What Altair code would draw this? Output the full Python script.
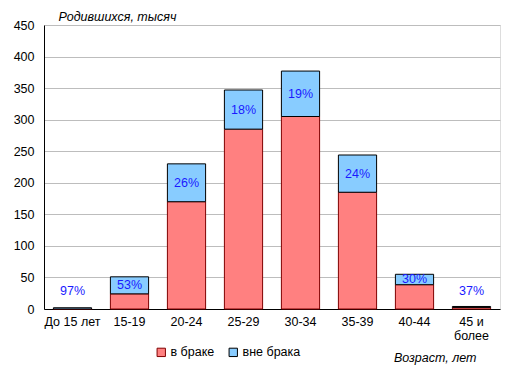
import altair as alt
import pandas as pd

ages = ["До 15 лет", "15-19", "20-24", "25-29", "30-34", "35-39", "40-44", "45 и более"]
married = [0.06, 24, 170, 285, 305, 185, 38.5, 2.5]
outside = [1.94, 27, 60, 62, 72, 59, 16.5, 1.5]
pct = [97, 53, 26, 18, 19, 24, 30, 37]
series = ["в браке", "вне брака"]
yticks = [0, 50, 100, 150, 200, 250, 300, 350, 400, 450]

rows = []
for a, m, o in zip(ages, married, outside):
    rows.append({"age": a, "series": series[0], "value": m, "ord": 0})
    rows.append({"age": a, "series": series[1], "value": o, "ord": 1})
df = pd.DataFrame(rows)

lab = pd.DataFrame({"age": ages, "married": married, "outside": outside, "pct": pct})

FONT = "Liberation Sans"
FS = 12.5

xscale = alt.Scale(domain=ages, paddingInner=0.33, paddingOuter=0.165)
yscale = alt.Scale(domain=[0, 450])

xaxis = alt.Axis(title="Возраст, лет", labelAngle=0, ticks=False,
                 labelFont=FONT, labelFontSize=FS, labelColor="black",
                 labelPadding=6, domainColor="black",
                 labelExpr="datum.label == '45 и более' ? ['45 и', 'более'] : datum.label",
                 titleFont=FONT, titleFontSize=FS, titleFontStyle="italic",
                 titleFontWeight="normal", titleColor="black",
                 titleAlign="right", titleAnchor="end", titleX=432, titleY=48,
                 titleBaseline="middle")
yaxis = alt.Axis(title="Родившихся, тысяч", values=yticks,
                 ticks=False, labelFont=FONT, labelFontSize=FS, labelColor="black",
                 labelPadding=10, domainColor="black", gridColor="#bdbdbd",
                 titleFont=FONT, titleFontSize=FS, titleFontStyle="italic",
                 titleFontWeight="normal", titleColor="black", titleAngle=0,
                 titleAlign="left", titleX=14, titleY=-9, titleBaseline="middle")

bars = alt.Chart(df).mark_bar(strokeWidth=1).encode(
    x=alt.X("age:N", sort=ages, scale=xscale, axis=xaxis),
    y=alt.Y("value:Q", stack="zero", scale=yscale, axis=yaxis),
    color=alt.Color("series:N", sort=series,
                    scale=alt.Scale(domain=series, range=["#FF8080", "#88CCFF"]),
                    legend=alt.Legend(title=None, orient="none", direction="horizontal",
                                      legendX=111, legendY=321, symbolType="square",
                                      symbolSize=70, symbolStrokeColor="black",
                                      symbolStrokeWidth=1, labelFont=FONT, labelFontSize=FS,
                                      labelColor="black", columnPadding=12, labelOffset=3)),
    stroke=alt.Stroke("series:N", scale=alt.Scale(domain=series, range=["#800000", "black"]),
                      legend=None),
    order=alt.Order("ord:Q"),
)

text = alt.Chart(lab).transform_calculate(
    ly="max(datum.married + datum.outside / 2, 28)",
    txt="datum.pct + '%'",
).mark_text(font=FONT, fontSize=FS, color="#1a1aff", baseline="middle").encode(
    x=alt.X("age:N", sort=ages, scale=xscale, axis=xaxis),
    y=alt.Y("ly:Q", scale=yscale, axis=yaxis),
    text="txt:N",
)

chart = (bars + text).properties(
    width=456, height=284,
    autosize=alt.AutoSizeParams(type="none"),
    padding={"left": 36, "top": 17, "right": 6, "bottom": 60},
).configure_view(stroke="#bdbdbd", strokeWidth=1).configure(background="white")

chart.save("out.html", embed_options={"renderer": "svg", "actions": False})
